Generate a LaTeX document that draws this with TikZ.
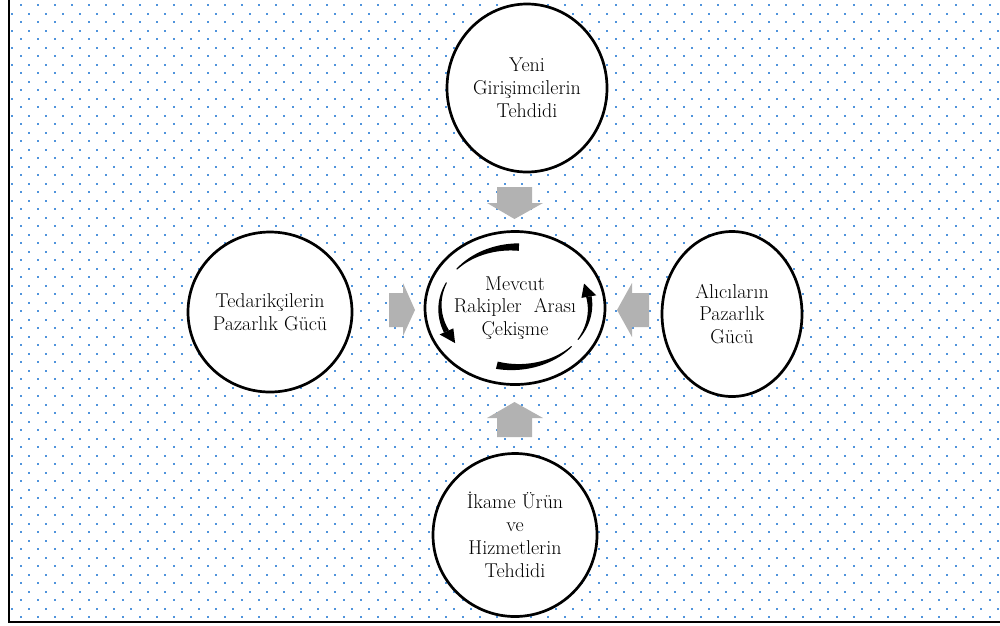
\documentclass[tikz,border=0pt]{standalone}
\usepackage{fontspec}
\usetikzlibrary{shapes.geometric}
\definecolor{dotblue}{RGB}{80,148,220}
\definecolor{arrgray}{RGB}{178,178,178}
% tapered arc around the centre: start angle, end angle, start width, end width
\newcommand\taperarc[4]{%
  \fill plot[domain=#1:#2, samples=30, variable=\t]
    ({515+(75+(#3+(#4-#3)*(\t-#1)/(#2-#1))/2)*cos(\t)},{307-(60+(#3+(#4-#3)*(\t-#1)/(#2-#1))/2)*sin(\t)})
   -- plot[domain=#2:#1, samples=30, variable=\t]
    ({515+(75-(#3+(#4-#3)*(\t-#1)/(#2-#1))/2)*cos(\t)},{307-(60-(#3+(#4-#3)*(\t-#1)/(#2-#1))/2)*sin(\t)})
   -- cycle;}
% arrowhead: base angle, tip angle
\newcommand\archeadtip[2]{%
  \fill ({515+82.5*cos(#1)},{307-67.5*sin(#1)}) -- ({515+75*cos(#2)},{307-60*sin(#2)})
     -- ({515+67.5*cos(#1)},{307-52.5*sin(#1)}) -- cycle;}
\begin{document}
\begin{tikzpicture}[x=1pt,y=-1pt,
  font=\fontsize{20}{22.8}\selectfont,
  force/.style={ellipse, draw, line width=2.7pt, fill=white, align=center, inner sep=0pt},
  blockarrow/.style={fill=arrgray}]
\useasboundingbox (0,0) rectangle (1000,625);
\clip (0,0) rectangle (1000,625);
% dotted background
\foreach \i in {0,...,58} {
  \foreach \j in {0,...,36} {
    \fill[dotblue] ({19.5+17*\i},{4+17*\j}) rectangle ++(2,2);
  }
  \foreach \j in {0,...,35} {
    \fill[dotblue] ({11+17*\i},{12.5+17*\j}) rectangle ++(2,2);
  }
}
% frame
\draw[line width=2pt] (8.5,-5) -- (8.5,621.5) -- (1010,621.5);
% forces
\node[force, minimum width=160pt, minimum height=168pt] (entrants) at (527,88) {Yeni\\Girişimcilerin\\Tehdidi};
\node[force, minimum width=164pt, minimum height=160pt] (suppliers) at (270,312) {Tedarikçilerin\\Pazarlık Gücü};
\node[force, minimum width=140pt, minimum height=165pt] (buyers) at (732,314) {Alıcıların\\Pazarlık\\Gücü};
\node[force, minimum width=164pt, minimum height=163pt] (substitutes) at (515,535) {İkame Ürün\\ve\\Hizmetlerin\\Tehdidi};
\node[force, minimum width=180pt, minimum height=153pt] (rivalry) at (515,308) {Mevcut\\Rakipler\ \ Arası\\Çekişme};
% block arrows
\fill[blockarrow] (497,187) -- (532,187) -- (532,203) -- (543,203) -- (514.5,219) -- (487,203) -- (497,203) -- cycle;
\fill[blockarrow] (497,437) -- (532,437) -- (532,418) -- (543,418) -- (514.5,402) -- (487,418) -- (497,418) -- cycle;
\fill[blockarrow] (389,293) -- (403,293) -- (403,283) -- (415,310) -- (403,336) -- (403,327) -- (389,327) -- cycle;
\fill[blockarrow] (649,293) -- (632,293) -- (632,283) -- (617,310) -- (632,337) -- (632,327) -- (649,327) -- cycle;
% circular arrows
\taperarc{87}{141}{7.5}{1}
\taperarc{156}{204}{1}{5.5}
\archeadtip{204}{217}
\taperarc{256}{319}{7.5}{1}
\taperarc{327}{370}{1}{5.5}
\archeadtip{370}{383}
\end{tikzpicture}
\end{document}
